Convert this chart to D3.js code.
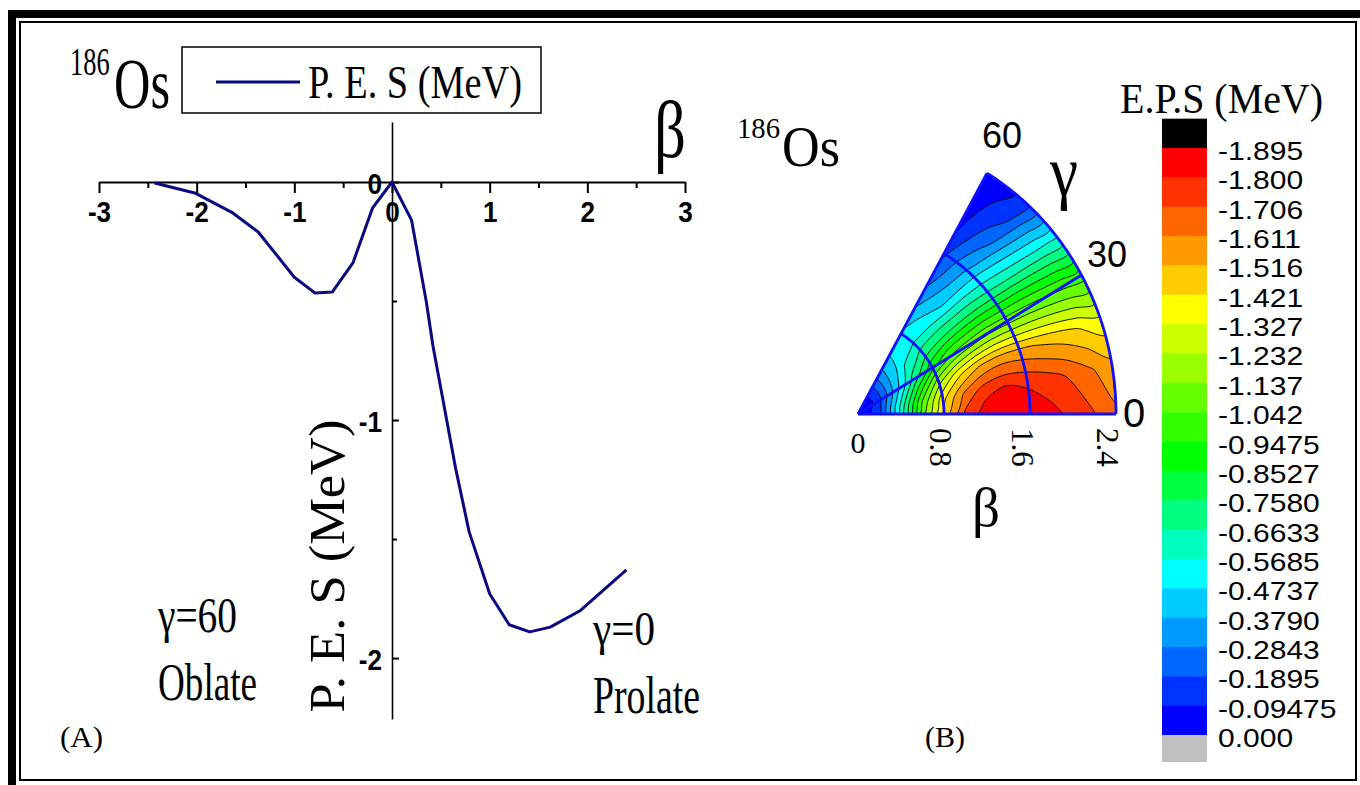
<!DOCTYPE html>
<html><head><meta charset="utf-8">
<script src="https://cdn.jsdelivr.net/npm/d3@7"></script>
<style>html,body{margin:0;padding:0;background:#fff;} svg{display:block}</style>
</head><body><svg id="c" width="1360" height="785"></svg>
<script>
// ---------- Panel A data: P.E.S versus beta (beta<0 : gamma=60 oblate, beta>0 : gamma=0 prolate)
const betaPES   = [-2.43,-2.02,-1.63,-1.37,-1.00,-0.79,-0.61,-0.40,-0.20,0.00,0.20,0.35,0.42,0.56,0.65,0.79,1.00,1.20,1.41,1.62,1.93,2.40];
const energyPES = [-0.004,-0.046,-0.13,-0.21,-0.40,-0.466,-0.462,-0.34,-0.11,0.00,-0.16,-0.50,-0.69,-1.00,-1.20,-1.47,-1.73,-1.86,-1.89,-1.87,-1.80,-1.63];
const xTicks = [-3,-2,-1,0,1,2,3];
const xMinorTicks = [-2.5,-1.5,-0.5,0.5,1.5,2.5];
const yTicks = [0,-1,-2];
const yMinorTicks = [-0.5,-1.5];

// ---------- Panel B data: E.P.S(beta,gamma) grid, rows = gamma, columns = beta
const gridBeta  = [0,0.2,0.4,0.6,0.8,1.0,1.2,1.4,1.6,1.8,2.0,2.2,2.4];
const gridGamma = [0,10,20,30,40,50,60];
const epsG0  = [0,-0.16,-0.62,-1.10,-1.45,-1.73,-1.86,-1.89,-1.87,-1.83,-1.78,-1.71,-1.63];
const epsG10 = [0,-0.15,-0.58,-1.03,-1.38,-1.62,-1.76,-1.80,-1.78,-1.74,-1.69,-1.62,-1.55];
const epsG20 = [0,-0.14,-0.50,-0.88,-1.20,-1.40,-1.52,-1.56,-1.54,-1.50,-1.46,-1.41,-1.35];
const epsG30 = [0,-0.12,-0.42,-0.70,-0.92,-1.05,-1.10,-1.12,-1.10,-1.08,-1.05,-1.02,-1.00];
const epsG40 = [0,-0.11,-0.38,-0.60,-0.72,-0.76,-0.76,-0.74,-0.70,-0.66,-0.62,-0.58,-0.55];
const epsG50 = [0,-0.11,-0.36,-0.52,-0.57,-0.54,-0.48,-0.44,-0.40,-0.33,-0.25,-0.18,-0.12];
const epsG60 = [0,-0.11,-0.35,-0.49,-0.50,-0.42,-0.32,-0.23,-0.17,-0.10,-0.06,-0.03,-0.01];
const polarBetaTicks = [0.8,1.6,2.4];
const polarGammaTicks = [0,30,60];
const levels = [-1.895,-1.800,-1.706,-1.611,-1.516,-1.421,-1.327,-1.232,-1.137,-1.042,-0.9475,-0.8527,-0.7580,-0.6633,-0.5685,-0.4737,-0.3790,-0.2843,-0.1895,-0.09475,0.000];
const levelLabels = ["-1.895","-1.800","-1.706","-1.611","-1.516","-1.421","-1.327","-1.232","-1.137","-1.042","-0.9475","-0.8527","-0.7580","-0.6633","-0.5685","-0.4737","-0.3790","-0.2843","-0.1895","-0.09475","0.000"];
const bandColors = ["#ff0000","#ff3300","#ff6600","#ff9900","#ffcc00","#ffff00","#ccff00","#99ff00","#66ff00","#33ff00","#00ff00","#00ff40","#00ff80","#00ffbf","#00ffff","#00ccff","#0099ff","#0066ff","#0033ff","#0000ff"];
const belowColor = "#000000", aboveColor = "#c0c0c0";

const SERIF = "'Liberation Serif','Times New Roman',serif";
const SANS = "'Liberation Sans',Arial,sans-serif";
const svg = d3.select("#c");

function txt(g, o) {
  const t = g.append("text").text(o.text)
    .attr("font-family", o.family || SERIF)
    .attr("font-size", o.size)
    .attr("font-weight", o.weight || "normal")
    .attr("text-anchor", o.anchor || "start")
    .attr("fill", "#000");
  if (o.len) t.attr("textLength", o.len).attr("lengthAdjust", "spacingAndGlyphs");
  if (o.rotate) t.attr("transform", `translate(${o.x},${o.y}) rotate(${o.rotate})`);
  else if (o.sx) t.attr("transform", `translate(${o.x},${o.y}) scale(${o.sx},1)`);
  else t.attr("x", o.x).attr("y", o.y);
  return t;
}
const plain = d => String(d);

// ---------- frame
svg.append("rect").attr("x", 12).attr("y", 14).attr("width", 1380).attr("height", 790)
  .attr("fill", "none").attr("stroke", "#000").attr("stroke-width", 8);
svg.append("rect").attr("x", 20).attr("y", 22).attr("width", 1336).attr("height", 758)
  .attr("fill", "none").attr("stroke", "#000").attr("stroke-width", 2);

// ---------- Panel A
const gA = svg.append("g");
const x = d3.scaleLinear().domain([-3, 3]).range([99, 685]);
const y = d3.scaleLinear().domain([0.252, -2.256]).range([122, 719]);

const xAxis = gA.append("g").attr("transform", `translate(0,${y(0)})`)
  .call(d3.axisBottom(x).tickValues(xTicks).tickSize(11).tickSizeOuter(0).tickPadding(12).tickFormat(plain));
xAxis.select(".domain").attr("stroke-width", 2.2);
xAxis.selectAll(".tick line").attr("stroke-width", 2);
xAxis.selectAll(".tick text").attr("font-family", SANS).attr("font-weight", "bold").attr("font-size", 29)
  .attr("fill", "#000").attr("dy", "0.6em")
  .attr("textLength", function() { return this.getComputedTextLength() * 0.9; }).attr("lengthAdjust", "spacingAndGlyphs");
gA.append("g").attr("transform", `translate(0,${y(0)})`)
  .call(d3.axisBottom(x).tickValues(xMinorTicks).tickSize(6).tickSizeOuter(0).tickFormat(""))
  .call(g => { g.select(".domain").remove(); g.selectAll("line").attr("stroke-width", 2); });

const yAxis = gA.append("g").attr("transform", `translate(${x(0)},0)`)
  .call(d3.axisLeft(y).tickValues(yTicks).tickSize(-7).tickSizeOuter(0).tickPadding(10).tickFormat(plain));
yAxis.select(".domain").attr("stroke-width", 1.6);
yAxis.selectAll(".tick line").attr("stroke-width", 2);
yAxis.selectAll(".tick text").attr("font-family", SANS).attr("font-weight", "bold").attr("font-size", 29).attr("fill", "#000").attr("dy", "0.4em")
  .attr("textLength", function() { return this.getComputedTextLength() * 0.9; }).attr("lengthAdjust", "spacingAndGlyphs");
gA.append("g").attr("transform", `translate(${x(0)},0)`)
  .call(d3.axisLeft(y).tickValues(yMinorTicks).tickSize(-5).tickSizeOuter(0).tickFormat(""))
  .call(g => { g.select(".domain").remove(); g.selectAll("line").attr("stroke-width", 2); });

const pesData = betaPES.map((b, i) => [b, energyPES[i]]);
gA.append("path").datum(pesData)
  .attr("d", d3.line().x(d => x(d[0])).y(d => y(d[1])))
  .attr("fill", "none").attr("stroke", "#0a0a80").attr("stroke-width", 3).attr("stroke-linejoin", "round");

// legend
gA.append("rect").attr("x", 182).attr("y", 47).attr("width", 359).attr("height", 66)
  .attr("fill", "#fff").attr("stroke", "#000").attr("stroke-width", 1.5);
gA.append("line").attr("x1", 216).attr("x2", 300).attr("y1", 82).attr("y2", 82)
  .attr("stroke", "#0a0a80").attr("stroke-width", 3);
txt(gA, {text: "P. E. S (MeV)", x: 308, y: 98, size: 47, len: 214});

txt(gA, {text: "186", x: 70, y: 75, size: 40, sx: 0.66});
txt(gA, {text: "Os", x: 114, y: 108, size: 72, len: 56});
txt(gA, {text: "β", x: 654, y: 157, size: 80, len: 32});
txt(gA, {text: "P. E. S (MeV)", x: 344, y: 566, size: 51, len: 293, anchor: "middle", rotate: -90});
txt(gA, {text: "γ=60", x: 158, y: 632, size: 50, len: 79});
txt(gA, {text: "Oblate", x: 158, y: 700, size: 52, len: 99});
txt(gA, {text: "γ=0", x: 593, y: 645, size: 48, len: 62});
txt(gA, {text: "Prolate", x: 593, y: 713, size: 52, len: 107});
txt(gA, {text: "(A)", x: 60, y: 747, size: 30, len: 43});

// ---------- Panel B
const gB = svg.append("g");
const ox = 858, oy = 414;
const rX = d3.scaleLinear().domain([0, 2.4]).range([0, 258]);
const rY = d3.scaleLinear().domain([0, 2.4]).range([0, 278]);
function proj(b, gdeg) {
  const a = gdeg * Math.PI / 180;
  return [ox + rX(b) * Math.cos(a), oy - rY(b) * Math.sin(a)];
}
const bMax = d3.max(gridBeta), gMax = d3.max(gridGamma);
const sectorPts = [proj(0, 0)].concat(d3.range(0, gMax + 0.01, 1).map(g => proj(bMax, g)));
const sectorPath = d3.line()(sectorPts) + "Z";
svg.append("defs").append("clipPath").attr("id", "sector").append("path").attr("d", sectorPath);

const surface = [epsG0, epsG10, epsG20, epsG30, epsG40, epsG50, epsG60];
const nB = gridBeta.length, nG = gridGamma.length;
const values = surface.flat();
const pxToBeta = d3.scaleLinear().domain([0.5, nB - 0.5]).range([0, bMax]).clamp(true);
const pxToGamma = d3.scaleLinear().domain([0.5, nG - 0.5]).range([0, gMax]).clamp(true);
const ringLine = d3.line().curve(d3.curveCatmullRomClosed.alpha(0.5));
function geoPath(mp) {
  let d = "";
  mp.coordinates.forEach(poly => poly.forEach(ring => {
    const pts = ring.slice(0, -1).map(p => proj(pxToBeta(p[0]), pxToGamma(p[1])));
    if (pts.length > 2) d += ringLine(pts);
  }));
  return d;
}
const fillThresholds = levels.slice(0, levels.length - 1);
const contours = d3.contours().size([nB, nG]).thresholds(fillThresholds)(values);
const gFill = gB.append("g").attr("clip-path", "url(#sector)");
gFill.append("path").attr("d", sectorPath).attr("fill", belowColor);
gFill.selectAll("path.band").data(contours).join("path").attr("class", "band")
  .attr("d", c => geoPath(c)).attr("fill", (c, i) => bandColors[i]).attr("fill-rule", "evenodd");
gFill.selectAll("path.iso").data(contours).join("path").attr("class", "iso")
  .attr("d", c => geoPath(c)).attr("fill", "none").attr("stroke", "#000").attr("stroke-width", 0.9);

// blue grid
const BLUE = "#1010ff";
const arcLine = d3.line();
polarBetaTicks.forEach(b => {
  gB.append("path").attr("d", arcLine(d3.range(0, gMax + 0.01, 1).map(g => proj(b, g))))
    .attr("fill", "none").attr("stroke", BLUE).attr("stroke-width", 2.8);
});
polarGammaTicks.forEach(g => {
  gB.append("path").attr("d", arcLine([proj(0, g), proj(bMax, g)]))
    .attr("fill", "none").attr("stroke", BLUE).attr("stroke-width", 2.8);
});

// polar labels
txt(gB, {text: "0", x: ox, y: 453, size: 30, anchor: "middle"});
[[0.8, 930], [1.6, 1012], [2.4, 1097]].forEach(([b, xx]) =>
  txt(gB, {text: String(b), x: xx, y: 428, size: 31, rotate: 90}));
txt(gB, {text: "60", x: 982, y: 148, size: 36, family: SANS});
txt(gB, {text: "30", x: 1087, y: 267, size: 36, family: SANS});
txt(gB, {text: "0", x: 1123, y: 427, size: 40, family: SANS});
txt(gB, {text: "γ", x: 1050, y: 196, size: 72, len: 28});
txt(gB, {text: "β", x: 972, y: 526, size: 54, len: 28});
txt(gB, {text: "186", x: 737, y: 138, size: 29, len: 43});
txt(gB, {text: "Os", x: 782, y: 166, size: 58, len: 58});
txt(gB, {text: "(B)", x: 925, y: 747, size: 30, len: 40});

// colorbar
const gC = svg.append("g");
const cbX = 1162, cbW = 45;
const yb = d3.scaleLinear().domain([0, levels.length - 1]).range([148, 735]);
const step = yb(1) - yb(0);
gC.append("rect").attr("x", cbX).attr("y", yb(0) - step).attr("width", cbW).attr("height", step).attr("fill", belowColor);
gC.selectAll("rect.blk").data(bandColors).join("rect").attr("class", "blk")
  .attr("x", cbX).attr("y", (c, i) => yb(i)).attr("width", cbW).attr("height", step + 0.5).attr("fill", c => c);
gC.append("rect").attr("x", cbX).attr("y", yb(levels.length - 1)).attr("width", cbW).attr("height", 27).attr("fill", aboveColor);
gC.selectAll("text.lab").data(levelLabels).join("text").attr("class", "lab")
  .attr("x", 1218).attr("y", (d, i) => yb(i) + 12).text(d => d)
  .attr("font-family", SANS).attr("font-size", 26).attr("fill", "#000")
  .attr("textLength", function() { return this.getComputedTextLength() * 30 / 26; })
  .attr("lengthAdjust", "spacingAndGlyphs");
txt(gC, {text: "E.P.S (MeV)", x: 1120, y: 113, size: 43, len: 203});
</script></body></html>
